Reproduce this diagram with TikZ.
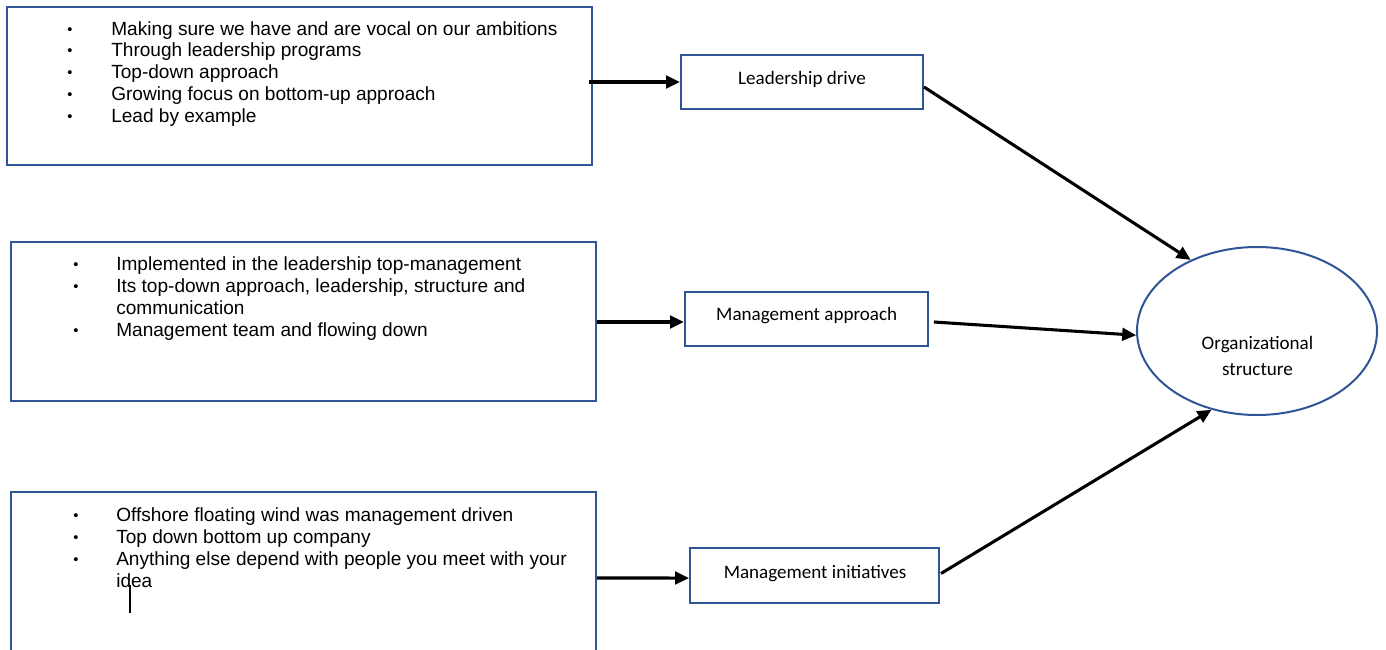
\documentclass[tikz,border=0pt]{standalone}
\usepackage{fontspec}
\setmainfont{Liberation Sans}
\newfontfamily\calibri{Carlito}
\usetikzlibrary{arrows.meta,shapes.geometric}
\definecolor{boxblue}{HTML}{2F5597}
\begin{document}
\begin{tikzpicture}[x=0.75pt,y=-0.75pt,
  bigbox/.style={draw=boxblue,line width=1.5pt,rectangle,inner sep=0pt,minimum width=438.75pt},
  smallbox/.style={draw=boxblue,line width=1.5pt,rectangle,inner sep=0pt,minimum height=40.5pt},
  itemtext/.style={anchor=base west,inner sep=0pt,font=\fontsize{14.3}{16.5}\selectfont},
  bul/.style={anchor=base,inner sep=0pt,font=\fontsize{11}{13}\selectfont},
  lab/.style={anchor=base,inner sep=0pt,font=\calibri\fontsize{14.3}{17}\selectfont},
  arr/.style={-{Triangle[length=10.5pt,width=9.5pt]},line width=2.3pt,black}]
\clip (0,0) rectangle (1386,650);
% big boxes
\node[bigbox,minimum height=118.5pt] (b1) at (299.5,86) {};
\node[bigbox,minimum height=119.25pt] (b2) at (303.5,321.5) {};
\node[bigbox,minimum height=126pt] (b3) at (303.5,576) {};
% small boxes
\node[smallbox,minimum width=181.5pt] (ld) at (802,82) {};
\node[smallbox,minimum width=182.25pt] (ma) at (806.5,319) {};
\node[smallbox,minimum width=186.75pt,minimum height=41.25pt] (mi) at (814.5,575.5) {};
\node[ellipse,draw=boxblue,line width=1.5pt,minimum width=180pt,minimum height=126pt,inner sep=0pt] (os) at (1257,331) {};
% labels
\node[lab] (ldt) at (802,84.3) {Leadership drive};
\node[lab] (mat) at (806.7,320.7) {Management approach};
\node[lab] (mit) at (815,578.3) {Management initiatives};
\node[lab] (ost1) at (1257.5,349) {Organizational};
\node[lab] (ost2) at (1257.5,375.7) {structure};
% box 1 bullets
\node[bul] (p11) at (70,34) {•};
\node[bul] (p12) at (70,55.8) {•};
\node[bul] (p13) at (70,77.6) {•};
\node[bul] (p14) at (70,99.4) {•};
\node[bul] (p15) at (70,121.2) {•};
\node[itemtext] (t11) at (111,35) {Making sure we have and are vocal on our ambitions};
\node[itemtext] (t12) at (111,56.8) {Through leadership programs};
\node[itemtext] (t13) at (111,78.6) {Top-down approach};
\node[itemtext] (t14) at (111,100.4) {Growing focus on bottom-up approach};
\node[itemtext] (t15) at (111,122.2) {Lead by example};
% box 2 bullets
\node[bul] (p21) at (76,269) {•};
\node[bul] (p22) at (76,291) {•};
\node[bul] (p23) at (76,335) {•};
\node[itemtext] (t21) at (116,270) {Implemented in the leadership top-management};
\node[itemtext] (t22) at (116,292) {Its top-down approach, leadership, structure and};
\node[itemtext] (t22b) at (116,314) {communication};
\node[itemtext] (t23) at (116,336) {Management team and flowing down};
% box 3 bullets
\node[bul] (p31) at (76,520) {•};
\node[bul] (p32) at (76,542) {•};
\node[bul] (p33) at (76,564) {•};
\node[itemtext] (t31) at (116,521) {Offshore floating wind was management driven};
\node[itemtext] (t32) at (116,543) {Top down bottom up company};
\node[itemtext] (t33) at (116,565) {Anything else depend with people you meet with your};
\node[itemtext] (t33b) at (116,587) {idea};
% text cursor
\coordinate (c1) at (130,585);
\coordinate (c2) at (130,613);
\draw[line width=0.9pt] (c1) -- (c2);
% connectors
\draw[arr] (b1.east |- ld.west) ++(-4,0) -- (ld.west);
\draw[arr] (b2.east |- ma.west) ++(0,3) -- ([yshift=-2.25pt]ma.west);
\draw[arr] (b3.east |- mi.west) ++(0,2.5) -- ([yshift=-1.9pt]mi.west);
\draw[arr] (ld.east) ++(0,5) -- (os.133);
\draw[arr] (ma.east) ++(5,3) -- (os.182);
\draw[arr] (mi.east) ++(1,-2) -- (os.240);
\end{tikzpicture}
\end{document}
